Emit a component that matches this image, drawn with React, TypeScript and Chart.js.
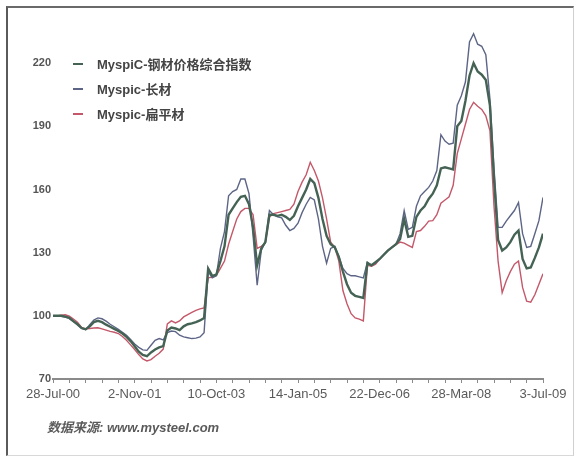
import React, { useEffect, useRef } from "react";
import { Chart, registerables } from "chart.js";

Chart.register(...registerables);

// ---- data ----
const dateLabels = ["28-Jul-00", "2-Nov-01", "10-Oct-03", "14-Jan-05", "22-Dec-06", "28-Mar-08", "3-Jul-09"];
const yTickValues = [70, 100, 130, 160, 190, 220];

const seriesNames = ["MyspiC-钢材价格综合指数", "Myspic-长材", "Myspic-扁平材"];
const seriesColors = ["#456355", "#5d6586", "#c4586a"];

const composite = [
  100, 100, 100, 99.6, 99, 97.5, 96, 94.2, 93.6, 95,
  97, 97.6, 97, 95.8, 94.8, 93.8, 92.8, 91.6, 90, 88,
  85.5, 83, 81.4, 80.8, 82.6, 84, 85, 85.6, 93, 94.4,
  94, 93.2, 95, 96, 96.4, 97, 97.8, 99, 122.5, 119,
  119.6, 126, 133, 148, 151, 154, 156.5, 157, 153, 142,
  124, 132, 135, 148, 148, 147.5, 148, 147, 145.5, 147.5,
  152, 156, 160, 165, 163, 156, 146, 138, 134, 132.5,
  128, 121, 115, 111, 109.5, 109, 108.5, 125, 124, 125.5,
  127, 129, 131, 132.5, 134, 136.5, 146, 137.5, 138, 147,
  150, 152, 155.5, 158, 162, 170, 170.5, 170, 169.5, 190,
  192.5, 202, 214, 220, 216, 214.5, 212, 200, 165, 136,
  131, 132.5, 135, 138.5, 140.5, 127, 122.5, 123, 127.5, 132.5,
  139,
];

const longProducts = [
  100, 100, 99.8, 99.4, 98.8, 97.2, 95.8, 94, 93.4, 95.8,
  98, 99, 98.6, 97.5, 96, 94.8, 93.6, 92.2, 90.8, 88.8,
  86.6, 85, 83.8, 83.6, 86, 88.4, 89.2, 88.6, 92, 92.8,
  92.5, 90.8, 90, 89.6, 89.2, 89.4, 90, 92, 121, 118,
  119, 132, 140, 157, 159, 160, 165, 165, 158, 138,
  114.5, 131, 135, 150, 148, 147, 146.5, 143, 140.5, 141.5,
  144, 149, 153, 156.2, 155, 146, 133, 125, 132, 133,
  128, 122.5, 120, 119, 119, 118.5, 118, 125.5, 124, 125,
  127, 129, 131, 132.5, 134, 139, 150, 141, 142, 152,
  157, 159, 161, 164, 169, 186, 183, 181.5, 182, 200,
  204.5, 211, 230, 234, 229, 228, 224, 203, 170, 142,
  142, 145, 147.5, 150, 153.8, 139, 132.5, 133, 139, 145.2,
  156.2,
];

const flatProducts = [
  100, 100, 100.3, 100.5, 99.8, 98.5, 97, 94.5, 93.8, 94,
  94.2, 94.3, 93.8, 93.2, 92.6, 92.2, 91.6, 90.2, 88.4, 86.2,
  84, 81.6, 79.5, 78.6, 79.2, 80.8, 82.2, 84.2, 96.2, 97.6,
  96.6, 97.6, 99.5, 100.6, 101.6, 102.6, 103.3, 103.8, 118, 118.4,
  119.2, 122.5, 126, 134, 140, 146, 149.5, 151, 151, 148,
  132, 133, 134.5, 147, 148.5, 149, 149.5, 150, 150.5, 153,
  159, 163.5, 167, 172.9, 169, 164, 156, 146, 135, 132.5,
  126, 112, 105.7, 101, 99, 98.4, 97.6, 124, 123.5, 124.5,
  127, 129, 131, 132.5, 133.8, 135, 134.5, 133.5, 132.5, 140,
  140.5, 142.5, 145, 145.2, 148, 153.5, 155, 156.5, 162, 177,
  184, 191, 198, 201.4, 199.5, 198, 195, 188, 152, 126,
  111, 116.7, 121, 124.5, 126, 113.5, 107, 106.5, 110, 115,
  120,
];

const seriesValues = [composite, longProducts, flatProducts];
const seriesWidths = [2.4, 1.4, 1.4];

const SANS = '"Liberation Sans", Arial, "Noto Sans CJK SC", sans-serif';

export default function App() {
  const canvasRef = useRef<HTMLCanvasElement | null>(null);

  useEffect(() => {
    const canvas = canvasRef.current;
    if (!canvas) return;
    const lastIndex = composite.length - 1;
    const chart = new Chart(canvas, {
      type: "line",
      data: {
        datasets: seriesValues.map((vals, k) => ({
          label: seriesNames[k],
          data: vals.map((y, i) => ({ x: i, y })),
          borderColor: seriesColors[k],
          backgroundColor: seriesColors[k],
          borderWidth: seriesWidths[k],
          pointRadius: 0,
          tension: 0,
          fill: false,
        })),
      },
      options: {
        responsive: false,
        animation: false,
        events: [],
        layout: { padding: { top: 21, right: 34, left: 0, bottom: 0 } },
        plugins: {
          legend: { display: false },
          tooltip: { enabled: false },
        },
        scales: {
          x: {
            type: "linear",
            min: 0,
            max: lastIndex,
            afterBuildTicks: (scale: any) => {
              const t = [];
              for (let v = 0; v <= lastIndex; v += 4) t.push({ value: v });
              scale.ticks = t;
            },
            afterFit: (scale: any) => {
              scale.height = 79;
            },
            grid: {
              drawOnChartArea: false,
              drawTicks: true,
              tickLength: 4,
              color: "#8a8a8a",
              lineWidth: 1,
            },
            border: { display: true, color: "#8a8a8a", width: 2 },
            ticks: {
              autoSkip: false,
              maxRotation: 0,
              padding: 4,
              color: "#5a5a5a",
              font: { family: SANS, size: 13 },
              callback: (value: any) => {
                const v = Number(value);
                return v % 20 === 0 ? dateLabels[v / 20] : "";
              },
            },
          },
          y: {
            type: "linear",
            min: 70,
            max: 240,
            afterBuildTicks: (scale: any) => {
              scale.ticks = yTickValues.map((v) => ({ value: v }));
            },
            afterFit: (scale: any) => {
              scale.width = 53;
            },
            grid: { display: false, drawTicks: false },
            border: { display: false },
            ticks: {
              padding: 2,
              color: "#555555",
              font: { family: SANS, size: 11, weight: "bold" },
            },
          },
        },
      },
    });
    return () => chart.destroy();
  }, []);

  return (
    <div style={{ position: "fixed", left: 0, top: 0, width: 577, height: 458, background: "#fff", overflow: "hidden" }}>
      <div
        style={{
          position: "absolute",
          left: 6,
          top: 6,
          width: 568,
          height: 450,
          borderLeft: "2px solid #5a5a5a",
          borderTop: "2px solid #6a6a6a",
          borderRight: "1px solid #d0d0d0",
          borderBottom: "1px solid #d8d8d8",
          boxSizing: "border-box",
        }}
      />
      <canvas ref={canvasRef} width={577} height={458} style={{ position: "absolute", left: 0, top: 0 }} />
      <div style={{ position: "absolute", left: 73, top: 51 }}>
        {seriesNames.map((name, k) => (
          <div key={name} style={{ display: "flex", alignItems: "center", height: 25 }}>
            <span
              style={{
                display: "inline-block",
                width: 10,
                height: 2,
                background: seriesColors[k],
                marginRight: 14,
              }}
            />
            <span
              style={{
                fontFamily: SANS,
                fontWeight: "bold",
                fontSize: 13,
                color: "#444",
                whiteSpace: "nowrap",
              }}
            >
              {name}
            </span>
          </div>
        ))}
      </div>
      <div
        style={{
          position: "absolute",
          left: 47,
          top: 417,
          fontFamily: SANS,
          fontStyle: "italic",
          fontWeight: "bold",
          fontSize: 13,
          color: "#5a5a5a",
          whiteSpace: "nowrap",
        }}
      >
        数据来源: www.mysteel.com
      </div>
    </div>
  );
}
